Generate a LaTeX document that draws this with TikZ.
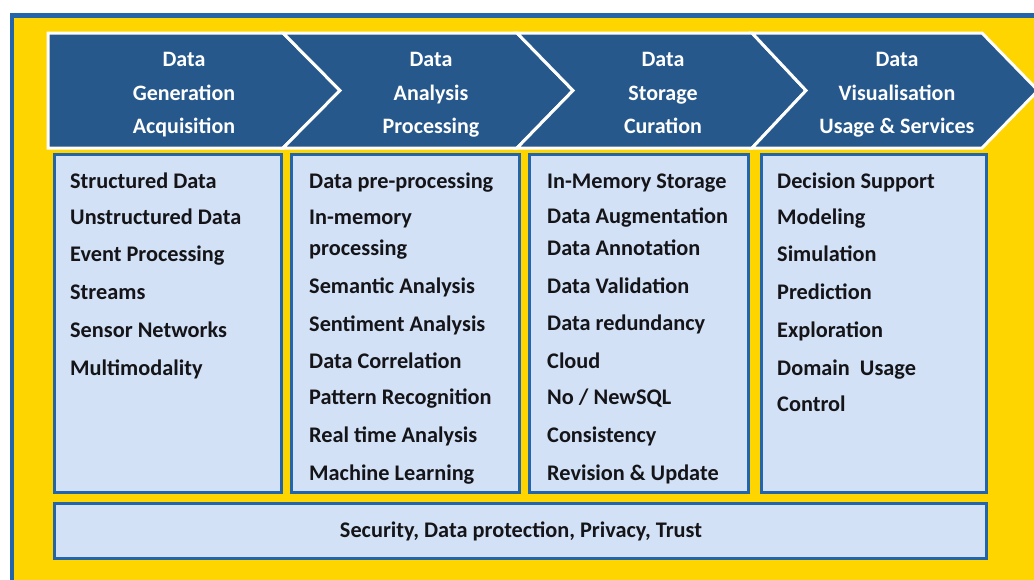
\documentclass[tikz,border=0pt]{standalone}
\usepackage{fontspec}
\setmainfont{Carlito}
\definecolor{chevronblue}{RGB}{38,88,140}
\definecolor{frameblue}{RGB}{36,100,168}
\definecolor{boxfill}{RGB}{210,225,245}
\definecolor{bgyellow}{RGB}{255,213,0}
\definecolor{itemtext}{RGB}{20,20,25}
\tikzset{
  chevron/.style={fill=chevronblue, draw=white, line width=3pt, line join=miter},
  colbox/.style={fill=boxfill, draw=frameblue, line width=3pt},
  headtext/.style={text=white, font=\bfseries\fontsize{22}{26}\selectfont, anchor=base, inner sep=0pt},
  itemtext/.style={text=itemtext, font=\bfseries\fontsize{22.3}{26}\selectfont, anchor=base west, inner sep=0pt},
}
\begin{document}
\begin{tikzpicture}[x=1pt,y=-1pt]
\clip (0,0) rectangle (1034,579);
\fill[white] (0,0) rectangle (1034,579);
% yellow panel with blue frame
\fill[bgyellow] (12,15.5) rectangle (1050,600);
\draw[frameblue, line width=4.5pt] (12,600) -- (12,15.5) -- (1050,15.5);

% process chevrons
\draw[chevron] (48,33) -- (283,33) -- (340,90.5) -- (283,148) -- (48,148) -- cycle;
\draw[chevron] (283,33) -- (517,33) -- (573,90.5) -- (517,148) -- (283,148) -- (340,90.5) -- cycle;
\draw[chevron] (517,33) -- (752,33) -- (806,90.5) -- (752,148) -- (517,148) -- (573,90.5) -- cycle;
\draw[chevron] (752,33) -- (982,33) -- (1038,90.5) -- (982,148) -- (752,148) -- (806,90.5) -- cycle;

\node[headtext] (h1a) at (184,66) {Data};
\node[headtext] (h1b) at (184,100.5) {Generation};
\node[headtext] (h1c) at (184,133.5) {Acquisition};
\node[headtext] (h2a) at (431,66) {Data};
\node[headtext] (h2b) at (431,100.5) {Analysis};
\node[headtext] (h2c) at (431,133.5) {Processing};
\node[headtext] (h3a) at (663,66) {Data};
\node[headtext] (h3b) at (663,100.5) {Storage};
\node[headtext] (h3c) at (663,133.5) {Curation};
\node[headtext] (h4a) at (897,66) {Data};
\node[headtext] (h4b) at (897,100.5) {Visualisation};
\node[headtext] (h4c) at (897,133.5) {Usage \& Services};

% column boxes
\draw[colbox] (54.5,154.5) rectangle (281.5,492.5);
\draw[colbox] (291.5,154.5) rectangle (519.5,492.5);
\draw[colbox] (529.5,154.5) rectangle (748.5,492.5);
\draw[colbox] (761.5,154.5) rectangle (986.5,492.5);
\draw[colbox] (54.5,503.5) rectangle (986.5,558.5);

% column 1
\node[itemtext] (a1) at (70,188) {Structured Data};
\node[itemtext] (a2) at (70,224) {Unstructured Data};
\node[itemtext] (a3) at (70,261) {Event Processing};
\node[itemtext] (a4) at (70,299) {Streams};
\node[itemtext] (a5) at (70,337) {Sensor Networks};
\node[itemtext] (a6) at (70,375) {Multimodality};
% column 2
\node[itemtext] (b1) at (309,188) {Data pre-processing};
\node[itemtext] (b2) at (309,224) {In-memory};
\node[itemtext] (b3) at (309,255) {processing};
\node[itemtext] (b4) at (309,293) {Semantic Analysis};
\node[itemtext] (b5) at (309,331) {Sentiment Analysis};
\node[itemtext] (b6) at (309,368) {Data Correlation};
\node[itemtext] (b7) at (309,404) {Pattern Recognition};
\node[itemtext] (b8) at (309,442) {Real time Analysis};
\node[itemtext] (b9) at (309,480) {Machine Learning};
% column 3
\node[itemtext] (c1) at (547,188) {In-Memory Storage};
\node[itemtext] (c2) at (547,223) {Data Augmentation};
\node[itemtext] (c3) at (547,255) {Data Annotation};
\node[itemtext] (c4) at (547,293) {Data Validation};
\node[itemtext] (c5) at (547,330) {Data redundancy};
\node[itemtext] (c6) at (547,368) {Cloud};
\node[itemtext] (c7) at (547,404) {No / NewSQL};
\node[itemtext] (c8) at (547,442) {Consistency};
\node[itemtext] (c9) at (547,480) {Revision \& Update};
% column 4
\node[itemtext] (d1) at (777,188) {Decision Support};
\node[itemtext] (d2) at (777,224) {Modeling};
\node[itemtext] (d3) at (777,261) {Simulation};
\node[itemtext] (d4) at (777,299) {Prediction};
\node[itemtext] (d5) at (777,337) {Exploration};
\node[itemtext] (d6) at (777,375) {Domain\ \ Usage};
\node[itemtext] (d7) at (777,411) {Control};
% cross-cutting concerns
\node[itemtext, anchor=base] (e1) at (521,537) {Security, Data protection, Privacy, Trust};
\end{tikzpicture}
\end{document}
